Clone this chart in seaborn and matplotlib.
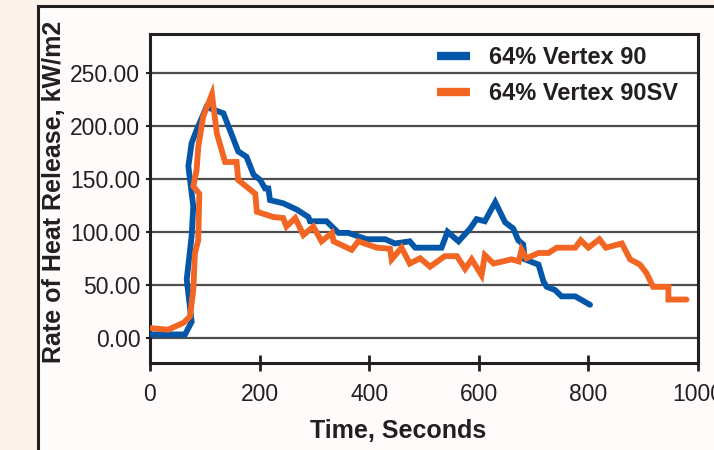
import numpy as np
import pandas as pd
import matplotlib
matplotlib.use("Agg")
import matplotlib.pyplot as plt
import seaborn as sns
from matplotlib.patches import Rectangle

# ---- data ----
series_names = ["64% Vertex 90", "64% Vertex 90SV"]

v90_time = [0, 64, 76, 67, 76, 79, 70, 76, 85, 103, 134, 146, 161, 176, 189, 201,
            210, 216, 219, 243, 268, 289, 292, 322, 344, 362, 395, 429, 447, 474,
            484, 532, 543, 563, 584, 596, 611, 630, 648, 663, 672, 681, 684, 709,
            718, 724, 739, 751, 776, 803]
v90_hrr = [3, 3, 15, 55, 96, 124, 162, 184, 196, 218, 212, 196, 176, 171, 154, 149,
           141, 141, 130, 127, 121, 114, 110, 110, 99, 99, 93, 93, 89, 91,
           85, 85, 100, 91, 103, 112, 110, 128, 109, 103, 92, 88, 74, 69,
           53, 48, 45, 39, 39, 31]

v90sv_time = [0, 33, 61, 73, 79, 82, 88, 90, 79, 85, 88, 97, 113, 122, 137, 158,
              161, 192, 195, 225, 243, 249, 265, 280, 298, 313, 332, 335, 368, 380,
              414, 438, 441, 459, 474, 493, 511, 538, 560, 575, 587, 605, 611, 627,
              660, 673, 678, 687, 709, 727, 742, 776, 786, 800, 820, 832, 861, 876,
              894, 906, 918, 946, 946, 979]
v90sv_hrr = [9, 7.5, 14, 20, 45, 80, 92, 136, 143, 158, 180, 209, 230, 193, 166, 166,
             149, 136, 119, 114, 113, 105, 113, 97, 105, 91, 99, 91, 83, 91,
             85, 84, 74, 85, 70, 75, 67, 77, 77, 65, 74, 59, 78, 70,
             74, 72, 83, 75, 80, 80, 85, 85, 92, 85, 93, 85, 89, 74,
             69, 61, 48, 48, 36, 36]

x_ticks = [0, 200, 400, 600, 800, 1000]
y_ticks = [0, 50, 100, 150, 200, 250]

df = pd.concat([
    pd.DataFrame({"Time": v90_time, "HRR": v90_hrr, "Series": series_names[0]}),
    pd.DataFrame({"Time": v90sv_time, "HRR": v90sv_hrr, "Series": series_names[1]}),
], ignore_index=True)

sns.set_theme(style="white")
plt.rcParams["font.family"] = ["Liberation Sans", "DejaVu Sans"]

W, H = 714, 450
fig = plt.figure(figsize=(W / 100, H / 100), dpi=100)
fig.patch.set_facecolor("#fbf2ea")

# outer frame
frame = Rectangle((38 / W, -0.05), 1.2, 1 - 6 / H + 0.05,
                  transform=fig.transFigure, facecolor="#fefcfa",
                  edgecolor="#231f20", linewidth=2.2, zorder=-10)
fig.patches.append(frame)

left, right, top, bottom = 150, 698, 34, 363
ax = fig.add_axes([left / W, 1 - bottom / H, (right - left) / W, (bottom - top) / H])
ax.set_zorder(5)
ax.set_facecolor("white")

palette = {series_names[0]: "#0457a8", series_names[1]: "#f26522"}
sns.lineplot(data=df, x="Time", y="HRR", hue="Series", palette=palette,
             sort=False, estimator=None, linewidth=4.2, ax=ax,
             solid_joinstyle="miter", zorder=3)

ax.set_xlim(0, 1000)
ax.set_ylim(-24, 287)
ax.set_xticks(x_ticks)
ax.set_yticks(y_ticks)
ax.set_yticklabels([f"{v:.2f}" for v in y_ticks])
ax.set_xticklabels([str(v) for v in x_ticks])

for yv in y_ticks:
    ax.axhline(yv, color="#4d4d4d", linewidth=1.6, zorder=1)

for side in ["left", "bottom", "top", "right"]:
    ax.spines[side].set_linewidth(2.2)
    ax.spines[side].set_color("#231f20")

ax.tick_params(axis="x", direction="inout", length=11, width=2, color="#231f20",
               labelsize=16.5, labelcolor="#231f20", pad=9, bottom=True)
ax.tick_params(axis="y", direction="out", length=3, width=1.5, color="#231f20",
               labelsize=16.5, labelcolor="#231f20", pad=4, left=True)

ax.set_xlabel("Time, Seconds", fontsize=18, fontweight="bold", color="#231f20")
ax.set_ylabel("Rate of Heat Release, kW/m2", fontsize=18, fontweight="bold", color="#231f20")
ax.xaxis.set_label_coords((398 - left) / (right - left), (bottom - 419) / (bottom - top))
ax.yaxis.set_label_coords((66 - left) / (right - left), (bottom - 192) / (bottom - top))

leg = ax.legend(loc="upper left", bbox_to_anchor=((437 - left) / (right - left), (bottom - 46) / (bottom - top)),
                frameon=False, fontsize=17, handlelength=1.4, handletextpad=0.8,
                labelspacing=0.55, borderpad=0, borderaxespad=0)
for t in leg.get_texts():
    t.set_fontweight("bold")
    t.set_color("#231f20")
for l in leg.get_lines():
    l.set_linewidth(6)
    l.set_solid_capstyle("butt")

fig.savefig("out.png", dpi=100, facecolor=fig.get_facecolor())
